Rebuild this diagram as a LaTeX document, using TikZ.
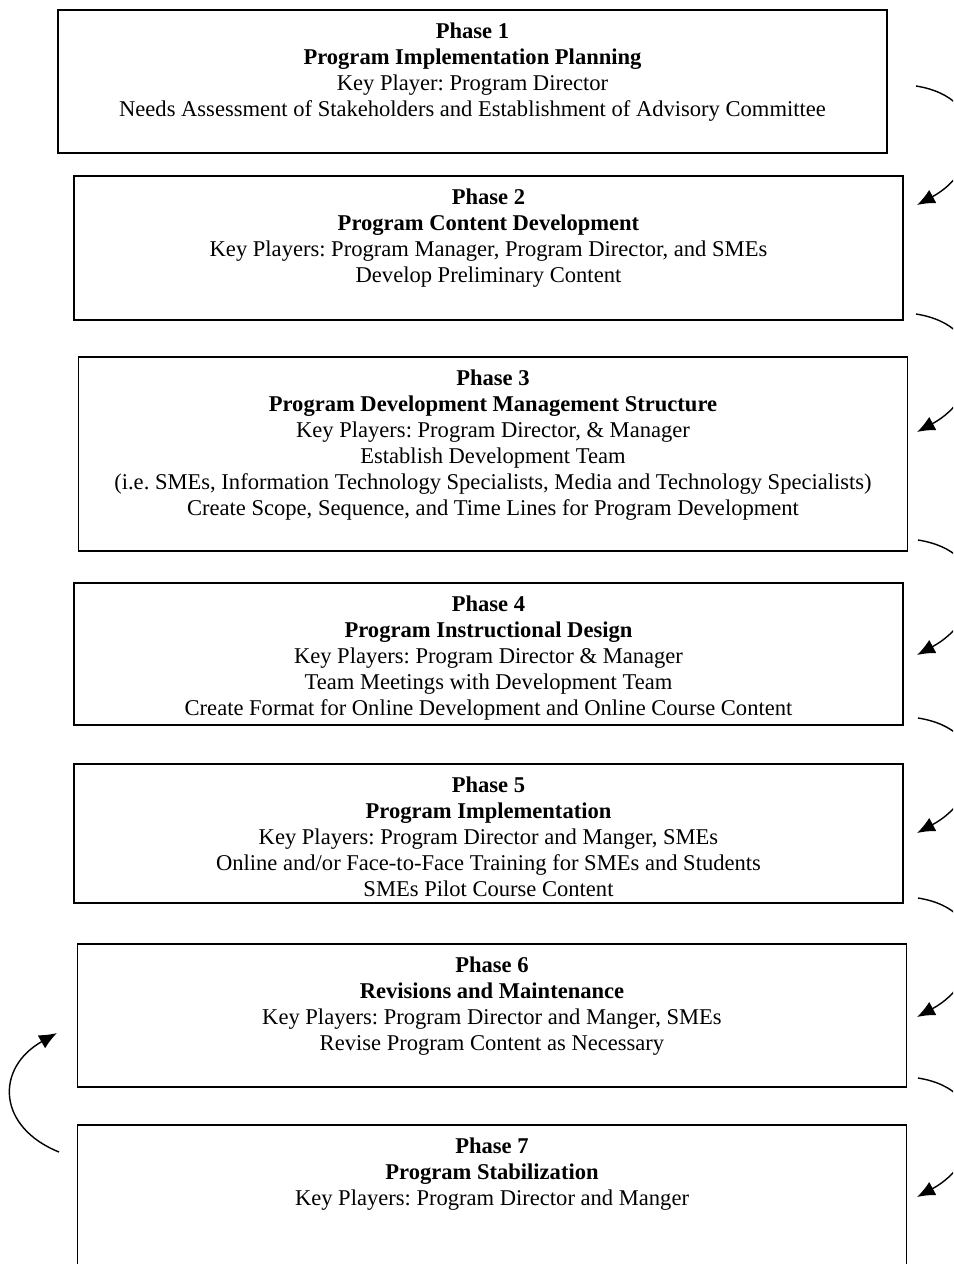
\documentclass[tikz,border=0pt]{standalone}
\usepackage{fontspec}
\setmainfont{Liberation Serif}
\usepackage{tikz}
\usetikzlibrary{arrows.meta}
\usetikzlibrary{positioning}
\tikzset{>=latex}
\frenchspacing
\tikzstyle{phasebox} = [rectangle, draw=black, line width=1pt, minimum width=441pt, inner sep=0pt]
\tikzstyle{phasetext} = [align=center, inner sep=0pt, font=\fontsize{12}{13.8}\selectfont]
\tikzstyle{flow} = [line width=0.75pt, -{Latex[length=9.5pt,width=8pt]}]

\begin{document}
\begin{tikzpicture}[x=0.532pt, y=-0.532pt]
\useasboundingbox (0,0) rectangle (953,1264);
\clip (0,0) rectangle (953,1264);
\node [phasebox, minimum height=76.1pt] (P1) at (472.5,81.5) {};
\node [phasebox, minimum height=76.6pt] (P2) at (488.5,248) {};
\node [phasebox, minimum height=103.2pt] (P3) at (493,454) {};
\node [phasebox, minimum height=75.5pt] (P4) at (488.5,654) {};
\node [phasebox, minimum height=74pt] (P5) at (488.5,833.5) {};
\node [phasebox, minimum height=76.1pt] (P6) at (492,1015.5) {};
\node [phasebox, minimum height=82.5pt] (P7) at (492,1202.5) {};
\node [phasetext, below=7.2pt of P1.north] (T1) {\textbf{Phase 1}\\\textbf{Program Implementation Planning}\\Key Player: Program Director\\Needs Assessment of Stakeholders and Establishment of Advisory Committee};
\node [phasetext, below=7.2pt of P2.north] (T2) {\textbf{Phase 2}\\\textbf{Program Content Development}\\Key Players: Program Manager, Program Director, and SMEs\\Develop Preliminary Content};
\node [phasetext, below=7.2pt of P3.north] (T3) {\textbf{Phase 3}\\\textbf{Program Development Management Structure}\\Key Players: Program Director, \& Manager\\Establish Development Team\\(i.e. SMEs, Information Technology Specialists, Media and Technology Specialists)\\Create Scope, Sequence, and Time Lines for Program Development};
\node [phasetext, below=7.2pt of P4.north] (T4) {\textbf{Phase 4}\\\textbf{Program Instructional Design}\\Key Players: Program Director \& Manager\\Team Meetings with Development Team\\Create Format for Online Development and Online Course Content};
\node [phasetext, below=7.2pt of P5.north] (T5) {\textbf{Phase 5}\\\textbf{Program Implementation}\\Key Players: Program Director and Manger, SMEs\\Online and/or Face-to-Face Training for SMEs and Students\\SMEs Pilot Course Content};
\node [phasetext, below=7.2pt of P6.north] (T6) {\textbf{Phase 6}\\\textbf{Revisions and Maintenance}\\Key Players: Program Director and Manger, SMEs\\Revise Program Content as Necessary};
\node [phasetext, below=7.2pt of P7.north] (T7) {\textbf{Phase 7}\\\textbf{Program Stabilization}\\Key Players: Program Director and Manger};
% arrow ends beside the boxes
\coordinate (a1) at (916,86);
\coordinate (b1) at (917,205);
\coordinate (a2) at (916,314);
\coordinate (b2) at (917,432);
\coordinate (a3) at (918,540);
\coordinate (b3) at (917,655);
\coordinate (a4) at (918,718);
\coordinate (b4) at (917,833);
\coordinate (a5) at (918,898);
\coordinate (b5) at (917,1017);
\coordinate (a6) at (918,1078);
\coordinate (b6) at (917,1197);
\coordinate (c7) at (59,1152);
\coordinate (c6) at (57,1033);
\draw [flow] (a1) .. controls +(75,12) and +(65,-35) .. (b1);
\draw [flow] (a2) .. controls +(75,12) and +(65,-35) .. (b2);
\draw [flow] (a3) .. controls +(75,12) and +(65,-35) .. (b3);
\draw [flow] (a4) .. controls +(75,12) and +(65,-35) .. (b4);
\draw [flow] (a5) .. controls +(75,12) and +(65,-35) .. (b5);
\draw [flow] (a6) .. controls +(75,12) and +(65,-35) .. (b6);
\draw [flow] (c7) .. controls +(-62,-25) and +(-62,35) .. (c6);
\end{tikzpicture}
\end{document}
